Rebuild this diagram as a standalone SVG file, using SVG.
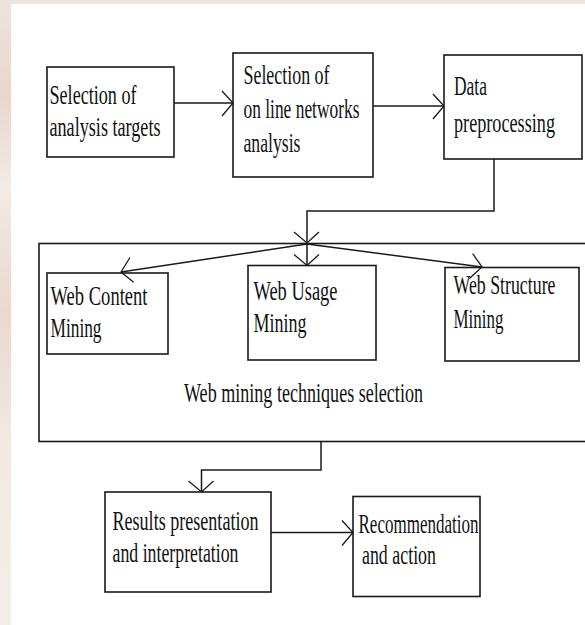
<svg xmlns="http://www.w3.org/2000/svg" width="585" height="625" viewBox="0 0 585 625">
<defs>
<linearGradient id="wm" x1="0" y1="0" x2="0" y2="1">
<stop offset="0" stop-color="#efe4dc"/>
<stop offset="0.15" stop-color="#e9d6cb"/>
<stop offset="0.3" stop-color="#f2ebe6"/>
<stop offset="0.5" stop-color="#ead8cd"/>
<stop offset="0.7" stop-color="#f1e9e2"/>
<stop offset="1" stop-color="#f3eee8"/>
</linearGradient>
<marker id="ah" viewBox="-14 -15 16 30" refX="0" refY="0" markerWidth="16" markerHeight="30" markerUnits="userSpaceOnUse" orient="auto" overflow="visible">
<path d="M-11,-12 L0,0 L-11,13" fill="none" stroke="#1a1a1a" stroke-width="1.3"/>
</marker>
</defs>
<style>
.box{fill:#fff;stroke:#1a1a1a;stroke-width:1.6}
.t{font-family:"Liberation Serif","Times New Roman",serif;font-size:28px;fill:#111}
.c{fill:none;stroke:#1a1a1a;stroke-width:1.5}
.a{marker-end:url(#ah)}
</style>
<rect x="0" y="0" width="585" height="625" fill="url(#wm)"/>
<rect x="11" y="4" width="574" height="621" fill="#fff"/>

<g id="web-mining-selection">
<rect class="box" x="39" y="243.5" width="560" height="198"/>
<g transform="scale(0.7 1)">
<text class="t" x="262.857" y="402" textLength="341.4" lengthAdjust="spacingAndGlyphs">Web mining techniques selection</text>
</g>
</g>

<g id="selection-targets">
<rect class="box" x="47" y="67" width="127" height="90"/>
<g transform="scale(0.7 1)">
<text class="t" x="70.714" y="104" textLength="124.3" lengthAdjust="spacingAndGlyphs">Selection of</text>
<text class="t" x="70.714" y="136" textLength="158.6" lengthAdjust="spacingAndGlyphs">analysis targets</text>
</g>
</g>

<g id="selection-networks">
<rect class="box" x="233" y="53" width="140" height="124"/>
<g transform="scale(0.7 1)">
<text class="t" x="347.857" y="84" textLength="122.9" lengthAdjust="spacingAndGlyphs">Selection of</text>
<text class="t" x="347.857" y="118" textLength="165.7" lengthAdjust="spacingAndGlyphs">on line networks</text>
<text class="t" x="347.857" y="152" textLength="81.4" lengthAdjust="spacingAndGlyphs">analysis</text>
</g>
</g>

<g id="data-preprocessing">
<rect class="box" x="444" y="55" width="138" height="104"/>
<g transform="scale(0.7 1)">
<text class="t" x="648.571" y="95" textLength="47.1" lengthAdjust="spacingAndGlyphs">Data</text>
<text class="t" x="648.571" y="132" textLength="144.3" lengthAdjust="spacingAndGlyphs">preprocessing</text>
</g>
</g>

<g id="web-content">
<rect class="box" x="47" y="273" width="121" height="81"/>
<g transform="scale(0.7 1)">
<text class="t" x="72.143" y="305" textLength="138.6" lengthAdjust="spacingAndGlyphs">Web Content</text>
<text class="t" x="72.143" y="337" textLength="72.9" lengthAdjust="spacingAndGlyphs">Mining</text>
</g>
</g>

<g id="web-usage">
<rect class="box" x="248" y="265.5" width="128" height="94.5"/>
<g transform="scale(0.7 1)">
<text class="t" x="362.143" y="300" textLength="120" lengthAdjust="spacingAndGlyphs">Web Usage</text>
<text class="t" x="362.143" y="332" textLength="75.7" lengthAdjust="spacingAndGlyphs">Mining</text>
</g>
</g>

<g id="web-structure">
<rect class="box" x="445" y="267.5" width="134" height="93.5"/>
<g transform="scale(0.7 1)">
<text class="t" x="647.857" y="294" textLength="145.7" lengthAdjust="spacingAndGlyphs">Web Structure</text>
<text class="t" x="647.857" y="328" textLength="71.4" lengthAdjust="spacingAndGlyphs">Mining</text>
</g>
</g>

<g id="results">
<rect class="box" x="105" y="492" width="166" height="100"/>
<g transform="scale(0.7 1)">
<text class="t" x="160.714" y="530" textLength="208.6" lengthAdjust="spacingAndGlyphs">Results presentation</text>
<text class="t" x="160.714" y="562" textLength="180" lengthAdjust="spacingAndGlyphs">and interpretation</text>
</g>
</g>

<g id="recommendation">
<rect class="box" x="353" y="496.5" width="127" height="100"/>
<g transform="scale(0.7 1)">
<text class="t" x="512.143" y="533.5" textLength="171.4" lengthAdjust="spacingAndGlyphs">Recommendation</text>
<text class="t" x="517.143" y="564.5" textLength="105.7" lengthAdjust="spacingAndGlyphs">and action</text>
</g>
</g>

<g id="connectors">
<path class="c a" d="M174,103 L233,103"/>
<path class="c a" d="M373,106 L444,106"/>
<path class="c a" d="M494,159 L494,211 L307,211 L307,243"/>
<path class="c a" d="M307,244 L307,265.5"/>
<path class="c a" d="M307,244 L121,272"/>
<path class="c a" d="M307,244 L482,267"/>
<path class="c a" d="M321,441.5 L321,470 L201.5,470 L201.5,492"/>
<path class="c a" d="M271,532.5 L353,532.5"/>
</g>
</svg>
